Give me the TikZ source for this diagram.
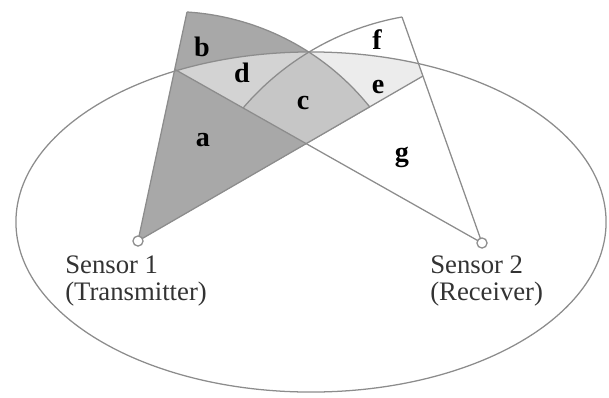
\documentclass[tikz,border=0pt]{standalone}
\usepackage{fontspec}
\setmainfont{Liberation Serif}
\usepackage{tikz}
\usetikzlibrary{calc}
\definecolor{beamdark}{HTML}{A8A8A8}
\definecolor{beammid}{HTML}{C6C6C6}
\definecolor{beamlight}{HTML}{D3D3D3}
\definecolor{beampale}{HTML}{ECECEC}
\definecolor{edgegrey}{HTML}{8C8C8C}
\tikzset{
  sensor/.style={circle, draw=edgegrey, fill=white, line width=0.9pt,
    minimum size=7.2pt, inner sep=0pt},
  beamedge/.style={draw=edgegrey, line width=0.9pt, line join=round},
  zonelabel/.style={font=\fontsize{20}{20}\selectfont\bfseries, inner sep=0pt},
  sensorlabel/.style={font=\fontsize{19}{19.2}\selectfont, align=left,
    anchor=north west, inner sep=0pt, text=black!80},
}
% the two beams as closed paths
\def\txbeam{(tx) -- (txtop) arc[start angle=86.4, end angle=38.6, radius=6.3625cm] -- cycle}
\def\rxbeam{(rx) -- (rxtop) arc[start angle=100.1, end angle=139.5, radius=6.7925cm] -- cycle}
\def\range{(311,175) ellipse[x radius=7.375cm, y radius=4.25cm]}

\begin{document}
\begin{tikzpicture}[x=0.025cm, y=0.025cm]
  \useasboundingbox (0,0) rectangle (609,397);
  \coordinate (tx) at (138,156);
  \coordinate (rx) at (482,154);
  \coordinate (txtop) at (187,385);
  \coordinate (rxtop) at (402,380);
  \coordinate (txend) at (423,321);
  \coordinate (rxend) at (175,327.5);

  % shading of the zones
  \fill[beamdark] \txbeam;
  \begin{scope}
    \clip \range;
    \clip \txbeam;
    \clip (rx) -- ($(rx)!1.3!(rxend)$) -- ++(0,200) -| (rx);
    \fill[beamlight] (0,0) rectangle (609,397);
  \end{scope}
  \begin{scope}
    \clip \range;
    \clip \rxbeam;
    \clip (tx) -- ($(tx)!1.3!(txend)$) -- ++(0,200) -| (tx);
    \fill[beampale] (0,0) rectangle (609,397);
  \end{scope}
  \begin{scope}
    \clip \txbeam;
    \fill[beammid] \rxbeam;
  \end{scope}

  % outlines
  \draw[beamedge] \range;
  \draw[beamedge] (txtop) -- (tx) -- (txend);
  \draw[beamedge] (txtop) arc[start angle=86.4, end angle=38.6, radius=6.3625cm];
  \draw[beamedge] (rxtop) -- (rx) -- (rxend);
  \draw[beamedge] (rxtop) arc[start angle=100.1, end angle=139.5, radius=6.7925cm];

  \node[sensor] (s1) at (tx) {};
  \node[sensor] (s2) at (rx) {};
  \node[sensorlabel] (l1) at (65,141) {Sensor 1\\(Transmitter)};
  \node[sensorlabel] (l2) at (430,141) {Sensor 2\\(Receiver)};

  \node[zonelabel] (za) at (203,257) {a};
  \node[zonelabel] (zb) at (202,350) {b};
  \node[zonelabel] (zc) at (303,294) {c};
  \node[zonelabel] (zd) at (242,324) {d};
  \node[zonelabel] (ze) at (378,310) {e};
  \node[zonelabel] (zf) at (377,357) {f};
  \node[zonelabel] (zg) at (402,240) {g};
\end{tikzpicture}
\end{document}
